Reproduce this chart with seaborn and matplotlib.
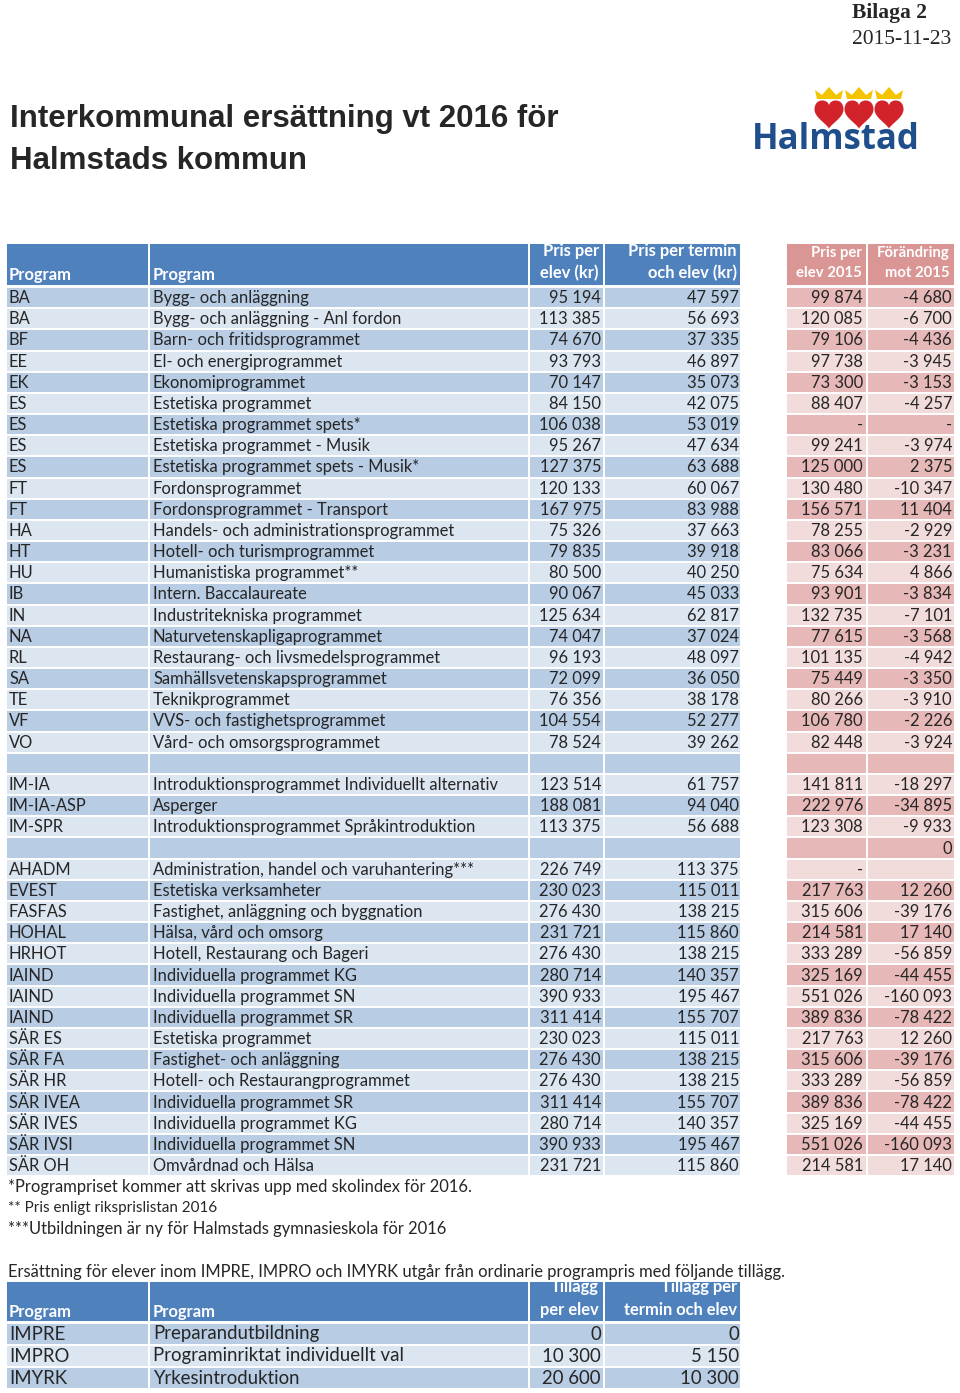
import seaborn as sns
import matplotlib.pyplot as plt
from matplotlib.patches import Rectangle, Polygon, PathPatch
from matplotlib.path import Path

sns.set_theme(style="white")
plt.rcParams["font.family"] = ["Lato", "DejaVu Sans"]

# main table
codes = ["BA", "BA", "BF", "EE", "EK", "ES", "ES", "ES", "ES", "FT", "FT", "HA", "HT", "HU",
         "IB", "IN", "NA", "RL", "SA", "TE", "VF", "VO", "",
         "IM-IA", "IM-IA-ASP", "IM-SPR", "",
         "AHADM", "EVEST", "FASFAS", "HOHAL", "HRHOT", "IAIND", "IAIND", "IAIND",
         "SÄR ES", "SÄR FA", "SÄR HR", "SÄR IVEA", "SÄR IVES", "SÄR IVSI", "SÄR OH"]
names = ["Bygg- och anläggning", "Bygg- och anläggning - Anl fordon", "Barn- och fritidsprogrammet",
         "El- och energiprogrammet", "Ekonomiprogrammet", "Estetiska programmet",
         "Estetiska programmet spets*", "Estetiska programmet - Musik",
         "Estetiska programmet spets - Musik*", "Fordonsprogrammet", "Fordonsprogrammet - Transport",
         "Handels- och administrationsprogrammet", "Hotell- och turismprogrammet",
         "Humanistiska programmet**", "Intern. Baccalaureate", "Industritekniska programmet",
         "Naturvetenskapligaprogrammet", "Restaurang- och livsmedelsprogrammet",
         "Samhällsvetenskapsprogrammet", "Teknikprogrammet", "VVS- och fastighetsprogrammet",
         "Vård- och omsorgsprogrammet", "",
         "Introduktionsprogrammet Individuellt alternativ", "Asperger",
         "Introduktionsprogrammet Språkintroduktion", "",
         "Administration, handel och varuhantering***", "Estetiska verksamheter",
         "Fastighet, anläggning och byggnation", "Hälsa, vård och omsorg",
         "Hotell, Restaurang och Bageri", "Individuella programmet KG", "Individuella programmet SN",
         "Individuella programmet SR", "Estetiska programmet", "Fastighet- och anläggning",
         "Hotell- och Restaurangprogrammet", "Individuella programmet SR",
         "Individuella programmet KG", "Individuella programmet SN", "Omvårdnad och Hälsa"]
price = [95194, 113385, 74670, 93793, 70147, 84150, 106038, 95267, 127375, 120133, 167975, 75326,
         79835, 80500, 90067, 125634, 74047, 96193, 72099, 76356, 104554, 78524, None,
         123514, 188081, 113375, None,
         226749, 230023, 276430, 231721, 276430, 280714, 390933, 311414, 230023, 276430, 276430,
         311414, 280714, 390933, 231721]
term = [47597, 56693, 37335, 46897, 35073, 42075, 53019, 47634, 63688, 60067, 83988, 37663,
        39918, 40250, 45033, 62817, 37024, 48097, 36050, 38178, 52277, 39262, None,
        61757, 94040, 56688, None,
        113375, 115011, 138215, 115860, 138215, 140357, 195467, 155707, 115011, 138215, 138215,
        155707, 140357, 195467, 115860]
price2015 = [99874, 120085, 79106, 97738, 73300, 88407, "-", 99241, 125000, 130480, 156571, 78255,
             83066, 75634, 93901, 132735, 77615, 101135, 75449, 80266, 106780, 82448, None,
             141811, 222976, 123308, None,
             "-", 217763, 315606, 214581, 333289, 325169, 551026, 389836, 217763, 315606, 333289,
             389836, 325169, 551026, 214581]
change = [-4680, -6700, -4436, -3945, -3153, -4257, "-", -3974, 2375, -10347, 11404, -2929,
          -3231, 4866, -3834, -7101, -3568, -4942, -3350, -3910, -2226, -3924, None,
          -18297, -34895, -9933, 0,
          None, 12260, -39176, 17140, -56859, -44455, -160093, -78422, 12260, -39176, -56859,
          -78422, -44455, -160093, 17140]

# supplement table
codes2 = ["IMPRE", "IMPRO", "IMYRK"]
names2 = ["Preparandutbildning", "Programinriktat individuellt val", "Yrkesintroduktion"]
add_elev = [0, 10300, 20600]
add_term = [0, 5150, 10300]

footnotes = ["*Programpriset kommer att skrivas upp med skolindex för 2016.",
             "** Pris enligt riksprislistan 2016",
             "***Utbildningen är ny för Halmstads gymnasieskola för 2016"]

BLUE_H, BLUE_D, BLUE_L = "#4F81BD", "#B8CCE4", "#DCE6F1"
RED_H, RED_D, RED_L = "#DA9694", "#E6B8B7", "#F2DCDB"


def fmt(v):
    if v is None:
        return ""
    if isinstance(v, str):
        return v
    return f"{v:,}".replace(",", " ")


fig = plt.figure(figsize=(9.6, 13.93), dpi=100)
ax = fig.add_axes([0, 0, 1, 1])
ax.set_xlim(0, 960)
ax.set_ylim(1393, 0)
ax.axis("off")

blue_cols = [(6, 149), (149, 529), (529, 604), (604, 741)]
red_cols = [(786, 867), (867, 955)]
FS = 11.9
HFS = 11.9


def cell(x0, x1, y0, h, color):
    ax.add_patch(Rectangle((x0, y0), x1 - x0, h, facecolor=color, edgecolor="white", lw=1.4))


# top right and title
ax.text(852, 13, "Bilaga 2", family="Liberation Serif", weight="bold", fontsize=15.5, va="center")
ax.text(852, 39, "2015-11-23", family="Liberation Serif", fontsize=15.5, va="center")
ax.text(10, 119, "Interkommunal ersättning vt 2016 för", family="Liberation Sans",
        weight="bold", fontsize=22.5, va="center")
ax.text(10, 161, "Halmstads kommun", family="Liberation Sans", weight="bold", fontsize=22.5,
        va="center")

# logo: hearts with crowns
heart_codes = [Path.MOVETO] + [Path.CURVE4] * 12
for cx in [829, 859, 889]:
    w, h, cy = 29, 29, 114
    pts = [(0, -0.28), (0, -0.52), (-0.5, -0.58), (-0.5, -0.16),
           (-0.5, 0.12), (-0.12, 0.3), (0, 0.5),
           (0.12, 0.3), (0.5, 0.12), (0.5, -0.16),
           (0.5, -0.58), (0, -0.52), (0, -0.28)]
    verts = [(cx + px * w, cy + py * h) for px, py in pts]
    ax.add_patch(PathPatch(Path(verts, heart_codes), facecolor="#D2232A", edgecolor="none"))
    ax.add_patch(Polygon([(cx - 12, 99), (cx - 14, 90), (cx - 7, 95), (cx, 87),
                          (cx + 7, 95), (cx + 14, 90), (cx + 12, 99)],
                         closed=True, facecolor="#F5C400", edgecolor="none"))
ax.text(836, 140, "Halmstad", family="Open Sans", weight="bold", fontsize=25,
        color="#1F4E8C", ha="center", va="center")

# main header
top, hh, rh = 243, 43, 21.17
for x0, x1 in blue_cols:
    cell(x0, x1, top, hh, BLUE_H)
for x0, x1 in red_cols:
    cell(x0, x1, top, hh, RED_H)
hdr = dict(color="white", weight="bold", fontsize=HFS, va="center")
rhdr = dict(color="white", weight="bold", fontsize=10.7, va="center", ha="right")
ax.text(9, 275, "Program", **hdr)
ax.text(153, 275, "Program", **hdr)
ax.text(599, 251, "Pris per", ha="right", **hdr)
ax.text(599, 273, "elev (kr)", ha="right", **hdr)
ax.text(737, 251, "Pris per termin", ha="right", **hdr)
ax.text(737, 273, "och elev (kr)", ha="right", **hdr)
ax.text(862, 253, "Pris per", **rhdr)
ax.text(862, 273, "elev 2015", **rhdr)
ax.text(950, 253, "Förändring", **rhdr)
ax.text(950, 273, "mot 2015", **rhdr)

# main rows
y_start = top + hh + 1
for i in range(len(codes)):
    y0 = y_start + i * rh
    yc = y0 + rh / 2 + 0.5
    shade_b = BLUE_D if i % 2 == 0 else BLUE_L
    shade_r = RED_D if i % 2 == 0 else RED_L
    for x0, x1 in blue_cols:
        cell(x0, x1, y0, rh, shade_b)
    for x0, x1 in red_cols:
        cell(x0, x1, y0, rh, shade_r)
    ax.text(9, yc, codes[i], fontsize=FS, va="center")
    ax.text(153, yc, names[i], fontsize=FS, va="center")
    ax.text(601, yc, fmt(price[i]), fontsize=FS, va="center", ha="right")
    ax.text(739, yc, fmt(term[i]), fontsize=FS, va="center", ha="right")
    ax.text(863, yc, fmt(price2015[i]), fontsize=FS, va="center", ha="right")
    ax.text(952, yc, fmt(change[i]), fontsize=FS, va="center", ha="right")

# footnotes
ax.text(8, 1187, footnotes[0], fontsize=FS, va="center")
ax.text(8, 1208, footnotes[1], fontsize=10.9, va="center")
ax.text(8, 1229, footnotes[2], fontsize=FS, va="center")
ax.text(8, 1272, "Ersättning för elever inom IMPRE, IMPRO och IMYRK utgår från ordinarie "
        "programpris med följande tillägg.", fontsize=FS, va="center")

# supplement table
top2, hh2, rh2 = 1281, 41, 22
FS2 = 13.4
for x0, x1 in blue_cols:
    cell(x0, x1, top2, hh2, BLUE_H)
clip = Rectangle((6, top2), 735, hh2, transform=ax.transData)
hdr_texts = [ax.text(9, 1312, "Program", **hdr), ax.text(153, 1312, "Program", **hdr),
             ax.text(599, 1287, "Tillägg", ha="right", **hdr),
             ax.text(599, 1310, "per elev", ha="right", **hdr),
             ax.text(737, 1287, "Tillägg per", ha="right", **hdr),
             ax.text(737, 1310, "termin och elev", ha="right", **hdr)]
for t in hdr_texts:
    t.set_clip_path(clip)
for i in range(len(codes2)):
    y0 = top2 + hh2 + 1 + i * rh2
    yc = y0 + rh2 / 2
    shade_b = BLUE_D if i % 2 == 0 else BLUE_L
    for x0, x1 in blue_cols:
        cell(x0, x1, y0, rh2, shade_b)
    ax.text(9, yc, codes2[i], fontsize=FS2, va="center")
    ax.text(153, yc, names2[i], fontsize=FS2, va="center")
    ax.text(601, yc, fmt(add_elev[i]), fontsize=FS2, va="center", ha="right")
    ax.text(739, yc, fmt(add_term[i]), fontsize=FS2, va="center", ha="right")

fig.savefig("out.png", dpi=100)
